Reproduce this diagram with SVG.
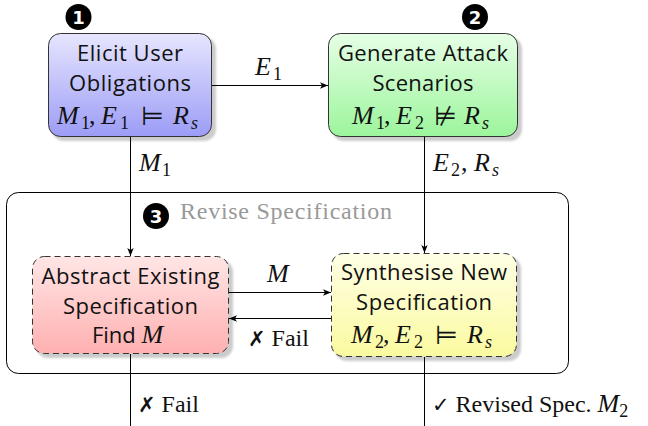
<svg xmlns="http://www.w3.org/2000/svg" width="648" height="426" viewBox="0 0 648 426">
<defs>
  <linearGradient id="gBlue" x1="0" y1="0" x2="0" y2="1"><stop offset="0" stop-color="#e6e6ff"/><stop offset="1" stop-color="#9c9cf6"/></linearGradient>
  <linearGradient id="gGreen" x1="0" y1="0" x2="0" y2="1"><stop offset="0" stop-color="#e6ffe6"/><stop offset="1" stop-color="#9cf59c"/></linearGradient>
  <linearGradient id="gRed" x1="0" y1="0" x2="0" y2="1"><stop offset="0" stop-color="#ffe6e6"/><stop offset="1" stop-color="#ffb0b0"/></linearGradient>
  <linearGradient id="gYellow" x1="0" y1="0" x2="0" y2="1"><stop offset="0" stop-color="#ffffe6"/><stop offset="1" stop-color="#fafaa0"/></linearGradient>
  <filter id="blur" x="-10%" y="-10%" width="120%" height="120%"><feGaussianBlur stdDeviation="1.2"/></filter>
  <marker id="arr" viewBox="0 0 10 10" refX="10" refY="5" markerWidth="8" markerHeight="8" markerUnits="userSpaceOnUse" orient="auto">
    <path d="M0,1 L10,5 L0,9 L2.5,5 Z" fill="#000"/>
  </marker>
</defs>
<style>
  .shadow { fill: #000; opacity: 0.2; filter: url(#blur); }
  .box { stroke: #333; stroke-width: 1; }
  .dashed { stroke-dasharray: 6 4; }
  .node { font-family: "Open Sans", "DejaVu Sans", sans-serif; font-size: 22px; fill: #111; text-anchor: middle; }
  .math { font-family: "Liberation Serif", "DejaVu Serif", serif; font-size: 26px; fill: #111; }
  .mi { font-style: italic; }
  .sub { font-size: 18px; font-style: normal; }
  .subi { font-size: 18px; font-style: italic; }
  .rel { font-family: "DejaVu Sans", sans-serif; font-size: 26px; font-style: normal; }
  .lbl { font-family: "Liberation Serif", "DejaVu Serif", serif; font-size: 24px; fill: #111; }
  .sym { font-family: "DejaVu Sans", sans-serif; font-size: 21px; font-weight: bold; }
  .gray { fill: #999; }
  .line { stroke: #000; stroke-width: 1; fill: none; }
  .num { font-family: "DejaVu Sans", sans-serif; font-weight: bold; font-size: 18px; fill: #fff; text-anchor: middle; }
</style>

<g id="container">
  <rect x="6.5" y="192.5" width="562" height="181" rx="12" ry="12" fill="none" stroke="#000" stroke-width="1"/>
  <circle cx="156" cy="216" r="13" fill="#000"/>
  <text class="num" x="156" y="222.5">3</text>
  <text class="lbl gray" x="180" y="219" textLength="212" lengthAdjust="spacing">Revise Specification</text>
</g>

<g id="connectors">
  <line class="line" x1="212" y1="85.5" x2="328" y2="85.5" marker-end="url(#arr)"/>
  <text class="math"><tspan class="mi" x="255" y="75">E</tspan><tspan class="sub" x="273" y="80">1</tspan></text>
  <line class="line" x1="130.5" y1="137" x2="130.5" y2="256" marker-end="url(#arr)"/>
  <text class="math"><tspan class="mi" x="139" y="171">M</tspan><tspan class="sub" x="162" y="176">1</tspan></text>
  <line class="line" x1="424.5" y1="137" x2="424.5" y2="253" marker-end="url(#arr)"/>
  <text class="math"><tspan class="mi" x="433" y="171">E</tspan><tspan class="sub" x="451" y="176">2</tspan><tspan x="461" y="171">,</tspan><tspan class="mi" x="474" y="171">R</tspan><tspan class="subi" x="492" y="176">s</tspan></text>
  <line class="line" x1="229" y1="292.5" x2="331" y2="292.5" marker-end="url(#arr)"/>
  <text class="math"><tspan class="mi" x="267" y="282">M</tspan></text>
  <line class="line" x1="331" y1="318.5" x2="229" y2="318.5" marker-end="url(#arr)"/>
  <text class="lbl" x="248" y="346"><tspan class="sym">✗</tspan> Fail</text>
  <line class="line" x1="130.5" y1="354" x2="130.5" y2="426"/>
  <text class="lbl" x="138" y="412"><tspan class="sym">✗</tspan> Fail</text>
  <line class="line" x1="424.5" y1="357" x2="424.5" y2="426"/>
  <text class="lbl" x="432" y="412"><tspan class="sym" font-weight="normal">✓</tspan> Revised Spec. <tspan class="mi" font-size="26px">M</tspan><tspan font-size="18px" dy="5">2</tspan></text>
</g>

<g id="elicit">
  <rect class="shadow" x="52" y="37" width="164" height="104" rx="12"/>
  <rect class="box" x="48.5" y="33.5" width="163" height="103" rx="12" fill="url(#gBlue)"/>
  <text class="node" x="130" y="61" textLength="106" lengthAdjust="spacing">Elicit User</text>
  <text class="node" x="130" y="91" textLength="122" lengthAdjust="spacing">Obligations</text>
  <text class="math"><tspan class="mi" x="57" y="124">M</tspan><tspan class="sub" x="81" y="129">1</tspan><tspan x="89" y="124">,</tspan><tspan class="mi" x="101" y="124">E</tspan><tspan class="sub" x="120" y="129">1</tspan><tspan class="rel" x="141" y="125">⊨</tspan><tspan class="mi" x="173" y="124">R</tspan><tspan class="subi" x="191" y="129">s</tspan></text>
  <circle cx="78.5" cy="17" r="13" fill="#000"/>
  <text class="num" x="78.5" y="23.5">1</text>
</g>

<g id="generate">
  <rect class="shadow" x="332" y="37" width="190" height="104" rx="12"/>
  <rect class="box" x="328.5" y="33.5" width="189" height="103" rx="12" fill="url(#gGreen)"/>
  <text class="node" x="423" y="61" textLength="170" lengthAdjust="spacing">Generate Attack</text>
  <text class="node" x="423" y="91" textLength="101" lengthAdjust="spacing">Scenarios</text>
  <text class="math"><tspan class="mi" x="352" y="124">M</tspan><tspan class="sub" x="376" y="129">1</tspan><tspan x="384" y="124">,</tspan><tspan class="mi" x="396" y="124">E</tspan><tspan class="sub" x="415" y="129">2</tspan><tspan class="rel" x="434" y="125">⊭</tspan><tspan class="mi" x="464" y="124">R</tspan><tspan class="subi" x="482" y="129">s</tspan></text>
  <circle cx="475" cy="17" r="13" fill="#000"/>
  <text class="num" x="475" y="23.5">2</text>
</g>

<g id="abstract">
  <rect class="shadow" x="36" y="260" width="197" height="98" rx="12"/>
  <rect class="box dashed" x="32.5" y="256.5" width="196" height="97" rx="12" fill="url(#gRed)"/>
  <text class="node" x="130.5" y="284" textLength="178" lengthAdjust="spacing">Abstract Existing</text>
  <text class="node" x="130.5" y="314" textLength="135" lengthAdjust="spacing">Specification</text>
  <text class="node" x="127.5" y="343">Find <tspan class="math mi" font-size="26px">M</tspan></text>
</g>

<g id="synthesise">
  <rect class="shadow" x="335" y="257" width="186" height="104" rx="12"/>
  <rect class="box dashed" x="331.5" y="253.5" width="185" height="103" rx="12" fill="url(#gYellow)"/>
  <text class="node" x="424" y="280" textLength="166" lengthAdjust="spacing">Synthesise New</text>
  <text class="node" x="424" y="310" textLength="136" lengthAdjust="spacing">Specification</text>
  <text class="math"><tspan class="mi" x="351" y="343">M</tspan><tspan class="sub" x="375" y="348">2</tspan><tspan x="383" y="343">,</tspan><tspan class="mi" x="395" y="343">E</tspan><tspan class="sub" x="414" y="348">2</tspan><tspan class="rel" x="435" y="344">⊨</tspan><tspan class="mi" x="467" y="343">R</tspan><tspan class="subi" x="485" y="348">s</tspan></text>
</g>
</svg>
